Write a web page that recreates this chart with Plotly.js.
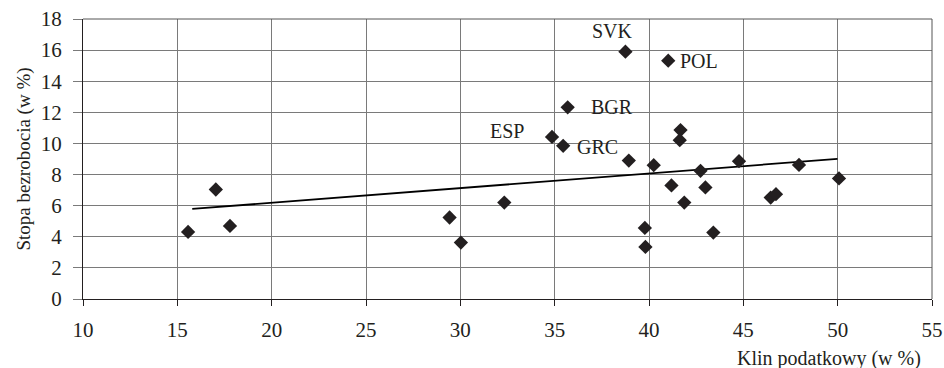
<!DOCTYPE html>
<html>
<head>
<meta charset="utf-8">
<script src="https://cdn.plot.ly/plotly-3.0.1.min.js"></script>
<style>html,body{margin:0;padding:0;background:#fff;}#chart{width:944px;height:368px;}</style>
</head>
<body>
<div id="chart"></div>
<script>
// Data
const klin = [15.57, 17.04, 17.79, 29.43, 30.03, 32.33, 34.86, 35.45, 35.69, 38.75, 38.93, 39.78, 39.81, 40.25, 41.02, 41.19, 41.67, 41.63, 41.87, 42.73, 42.99, 43.41, 44.77, 46.45, 46.73, 47.95, 50.07];
const bezrobocie = [4.31, 7.04, 4.70, 5.24, 3.63, 6.20, 10.42, 9.85, 12.32, 15.9, 8.9, 4.57, 3.35, 8.6, 15.32, 7.3, 10.86, 10.21, 6.2, 8.24, 7.17, 4.27, 8.86, 6.52, 6.74, 8.62, 7.75];
const kraje = ['', '', '', '', '', '', 'ESP', 'GRC', 'BGR', 'SVK', '', '', '', '', 'POL', '', '', '', '', '', '', '', '', '', '', '', ''];
const trendX = [15.79, 49.99];
const trendY = [5.79, 9.01];
const xTicks = [10, 15, 20, 25, 30, 35, 40, 45, 50, 55];
const yTicks = [0, 2, 4, 6, 8, 10, 12, 14, 16, 18];

const labelOffsets = {
  SVK: {dx: -13, dy: -21},
  BGR: {dx: 44, dy: 0},
  ESP: {dx: -45, dy: -6},
  GRC: {dx: 34, dy: 1},
  POL: {dx: 31, dy: 0}
};

const FONT = 'Liberation Serif, Times New Roman, serif';
const INK = '#231f20';

const annotations = [];
kraje.forEach((k, i) => {
  if (!k) return;
  const o = labelOffsets[k];
  annotations.push({
    x: klin[i], y: bezrobocie[i], xref: 'x', yref: 'y',
    text: k, showarrow: false, xshift: o.dx, yshift: -o.dy,
    font: {family: FONT, size: 20, color: INK}
  });
});
annotations.push({
  xref: 'paper', yref: 'paper', x: 1, y: 0, xanchor: 'right', yanchor: 'middle',
  xshift: -9, yshift: -59,
  text: 'Klin podatkowy (w %)', showarrow: false,
  font: {family: FONT, size: 20, color: INK}
});

const traces = [
  {
    x: trendX, y: trendY, mode: 'lines', type: 'scatter',
    line: {color: '#000', width: 1.8}, hoverinfo: 'skip', showlegend: false
  },
  {
    x: klin, y: bezrobocie, mode: 'markers', type: 'scatter',
    marker: {symbol: 'diamond', size: 11, color: INK},
    showlegend: false
  }
];

const layout = {
  width: 944, height: 368,
  margin: {l: 83, r: 12, t: 19, b: 69},
  paper_bgcolor: '#fff', plot_bgcolor: '#fff',
  font: {family: FONT, size: 21, color: INK},
  xaxis: {
    range: [10, 55], tickvals: xTicks, ticktext: xTicks.map(String),
    showgrid: true, gridcolor: '#7a7a7a', gridwidth: 1,
    showline: true, linecolor: INK, linewidth: 1,
    ticks: 'outside', ticklen: 6, tickcolor: INK,
    ticklabelstandoff: 6,
    zeroline: false, tickfont: {family: FONT, size: 21, color: INK}
  },
  yaxis: {
    range: [0, 18], tickvals: yTicks, ticktext: yTicks.map(v => String(v) + '\u2004'),
    showgrid: true, gridcolor: '#7a7a7a', gridwidth: 1,
    showline: true, linecolor: INK, linewidth: 1,
    ticks: 'outside', ticklen: 9, tickcolor: '#7a7a7a',
    zeroline: false, tickfont: {family: FONT, size: 21, color: INK},
    title: {text: 'Stopa bezrobocia (w %)', font: {family: FONT, size: 19, color: INK}, standoff: 5}
  },
  shapes: [
    {type: 'line', xref: 'paper', yref: 'paper', x0: 0, x1: 1, y0: 1, y1: 1, line: {color: '#555', width: 1}},
    {type: 'line', xref: 'paper', yref: 'paper', x0: 1, x1: 1, y0: 0, y1: 1, line: {color: '#555', width: 1}}
  ],
  annotations: annotations
};

Plotly.newPlot('chart', traces, layout, {displayModeBar: false, staticPlot: true});
</script>
</body>
</html>
